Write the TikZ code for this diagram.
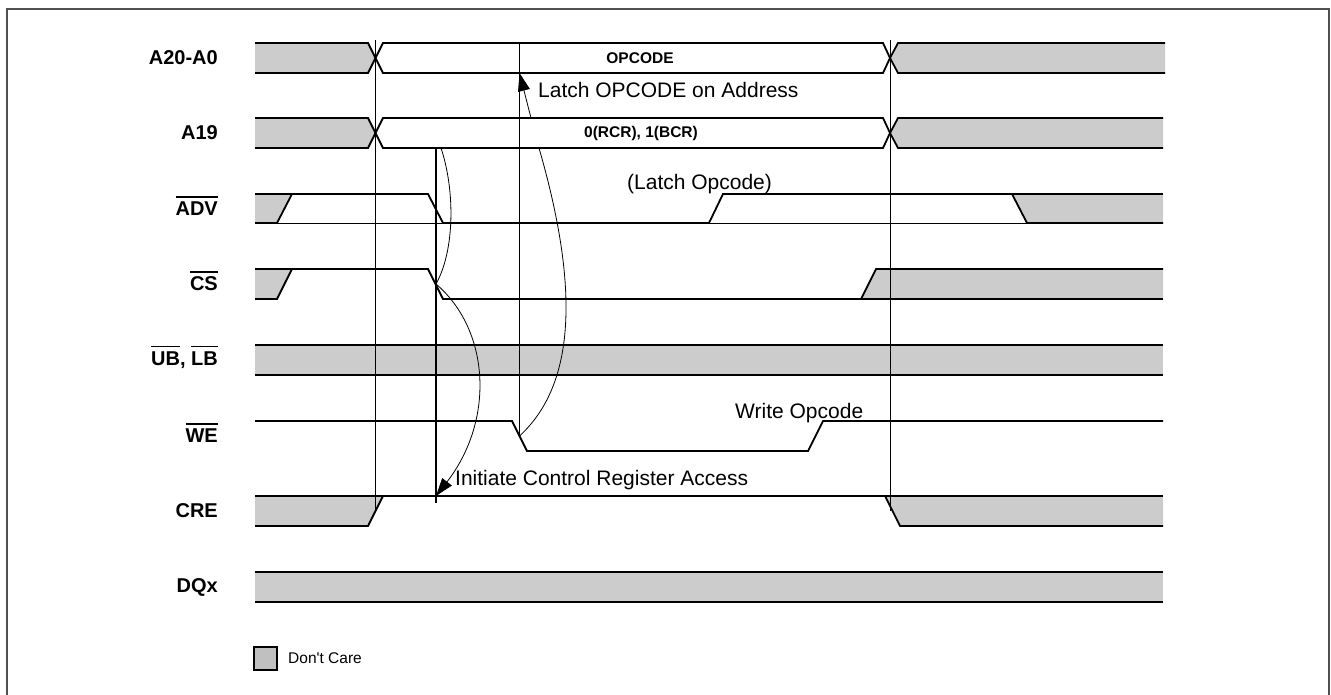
\documentclass[tikz,border=0pt]{standalone}
\usepackage{fontspec}
\setmainfont{Liberation Sans}
\newfontfamily\rawsans{Liberation Sans}
\usetikzlibrary{arrows.meta}
\definecolor{dcgray}{HTML}{CCCCCC}
\definecolor{lggray}{HTML}{C0C0C0}
\definecolor{framegray}{HTML}{505050}
\newcommand{\ovl}[1]{\setbox0\hbox{#1}\rlap{\raise 18pt\hbox{\rule{\wd0}{1.3pt}}}\box0}
\begin{document}
\begin{tikzpicture}[x=1pt,y=-1pt,
  sig/.style={line width=1.8pt, line join=miter},
  thinbase/.style={line width=0.7pt},
  guide/.style={line width=0.9pt},
  strongguide/.style={line width=1.8pt},
  cause/.style={line width=0.8pt},
  tipend/.style={-{Triangle[length=18pt,width=12pt]}},
  lbl/.style={anchor=east, font=\fontsize{20}{22}\selectfont\bfseries, inner sep=0pt},
  bustext/.style={font=\fontsize{15.5}{18}\selectfont\bfseries, inner sep=0pt},
  note/.style={anchor=west, font=\fontsize{21}{24}\selectfont, inner sep=0pt},
  legendtext/.style={anchor=west, font=\rawsans\fontsize{15.5}{18}\selectfont, inner sep=0pt},
]
\useasboundingbox (0,0) rectangle (1331,695);
% frame
\draw[framegray, line width=1.5pt] (7,9) rectangle (1329,700);

% ---------- labels
\node[lbl] (lA)   at (218,58)  {A20-A0};
\node[lbl] (lA19) at (218,133) {A19};
\node[lbl] (lADV) at (218,206) {\ovl{ADV}};
\node[lbl] (lCS)  at (218,281) {\ovl{CS}};
\node[lbl] (lUB)  at (218,357) {\ovl{UB}, \ovl{LB}};
\node[lbl] (lWE)  at (218,433) {\ovl{WE}};
\node[lbl] (lCRE) at (218,511) {CRE};
\node[lbl] (lDQ)  at (218,587) {DQx};

% ---------- A20-A0
\fill[dcgray] (255,43) -- (368,43) -- (375.5,58) -- (368,73) -- (255,73) -- cycle;
\draw[sig] (255,43) -- (368,43) -- (375.5,58) -- (368,73) -- (255,73);
\draw[sig, fill=white] (383,43) -- (883,43) -- (890,58) -- (883,73) -- (383,73) -- (375.5,58) -- cycle;
\fill[dcgray] (1165,43) -- (898,43) -- (890,58) -- (898,73) -- (1165,73) -- cycle;
\draw[sig] (1165,43) -- (898,43) -- (890,58) -- (898,73) -- (1165,73);
\node[bustext] (opc) at (640,58) {OPCODE};

% ---------- A19
\fill[dcgray] (255,118) -- (368,118) -- (375.5,133) -- (368,148) -- (255,148) -- cycle;
\draw[sig] (255,118) -- (368,118) -- (375.5,133) -- (368,148) -- (255,148);
\draw[sig, fill=white] (383,118) -- (883,118) -- (890,133) -- (883,148) -- (383,148) -- (375.5,133) -- cycle;
\fill[dcgray] (1163,118) -- (898,118) -- (890,133) -- (898,148) -- (1163,148) -- cycle;
\draw[sig] (1163,118) -- (898,118) -- (890,133) -- (898,148) -- (1163,148);
\node[bustext] (rcr) at (641,133) {0(RCR), 1(BCR)};

% ---------- ADV
\fill[dcgray] (255,194) -- (292,194) -- (277,223) -- (255,223) -- cycle;
\fill[dcgray] (1012,194) -- (1163,194) -- (1163,223) -- (1027,223) -- cycle;
\draw[thinbase] (255,223) -- (1163,223);
\draw[sig] (255,194) -- (292,194);
\draw[sig] (255,223) -- (277,223) -- (292,194) -- (428,194) -- (443,223) -- (709,223) -- (723,194) -- (1012,194) -- (1027,223) -- (1163,223);
\draw[sig] (1012,194) -- (1163,194);

% ---------- CS
\fill[dcgray] (255,269) -- (292,269) -- (277,299) -- (255,299) -- cycle;
\fill[dcgray] (876,269) -- (1163,269) -- (1163,299) -- (861,299) -- cycle;
\draw[sig] (255,269) -- (292,269);
\draw[sig] (255,299) -- (277,299) -- (292,269) -- (428,269) -- (443,299) -- (861,299) -- (876,269) -- (1163,269);
\draw[sig] (861,299) -- (1163,299);

% ---------- UB, LB
\fill[dcgray] (255,345) rectangle (1163,375);
\draw[sig] (255,345) -- (1163,345);
\draw[sig] (255,375) -- (1163,375);

% ---------- WE
\draw[sig] (255,421) -- (512,421) -- (527,451) -- (808,451) -- (823,421) -- (1163,421);

% ---------- CRE
\fill[dcgray] (255,496) -- (383,496) -- (368,526) -- (255,526) -- cycle;
\fill[dcgray] (885,496) -- (1163,496) -- (1163,526) -- (900,526) -- cycle;
\draw[sig] (255,496) -- (383,496);
\draw[sig] (255,526) -- (368,526) -- (383,496) -- (885,496) -- (900,526) -- (1163,526);
\draw[sig] (885,496) -- (1163,496);

% ---------- DQx
\fill[dcgray] (255,572) rectangle (1163,602);
\draw[sig] (255,572) -- (1163,572);
\draw[sig] (255,602) -- (1163,602);

% ---------- reference coordinates
\coordinate (csfall) at (436,284);
\coordinate (a19bot) at (441,148);
\coordinate (creup) at (436,496);
\coordinate (wefall) at (519.5,436);
\coordinate (c3low) at (539,148);
\coordinate (c3high) at (531,118);
\coordinate (a20bot) at (519.5,73);

% ---------- vertical guides
\draw[guide] (375.5,40) -- (375.5,511);
\draw[guide] (890,40) -- (890,511);
\draw[guide] (519.5,43) -- (wefall);
\draw[strongguide] (436,148) -- (436,503);

% ---------- cause curves
\draw[cause] (csfall) .. controls (455,250) and (455,190) .. (a19bot);
\draw[cause, tipend] (csfall) .. controls (490,330) and (495,420) .. (creup);
\draw[cause, tipend] (wefall) .. controls (575,385) and (580,290) .. (c3low) (c3high) -- (a20bot);

% ---------- notes
\node[note] (nLatchAddr) at (538,90)  {Latch OPCODE on Address};
\node[note] (nLatchOp)   at (627,184) {(Latch Opcode)};
\node[note] (nWrite)     at (735,413) {Write Opcode};
\node[note] (nInit)      at (455,480) {Initiate Control Register Access};

% ---------- legend
\draw[line width=1.2pt, fill=lggray] (254,647) rectangle (277,670);
\node[legendtext] (nDC) at (288,658) {Don't Care};
\end{tikzpicture}
\end{document}
